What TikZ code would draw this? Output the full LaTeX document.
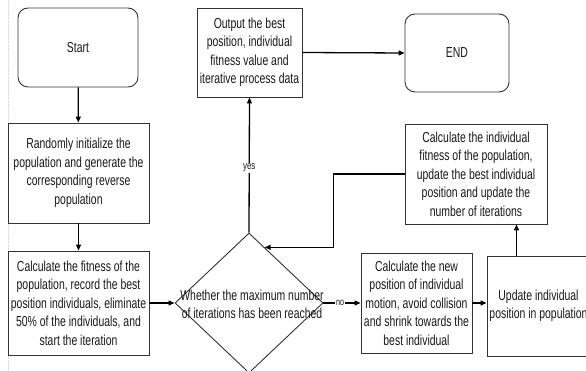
\documentclass[tikz,border=0pt]{standalone}
\usepackage{fontspec}
\setmainfont[FakeStretch=0.72]{Liberation Sans}
\usetikzlibrary{shapes.geometric,arrows.meta,calc}
\begin{document}
\begin{tikzpicture}[x=1pt,y=-1pt,
  every node/.style={font=\fontsize{14.5}{18.5}\selectfont, text=black!90},
  box/.style={draw=black!80, line width=0.9pt, fill=white, align=center, inner sep=1pt},
  roundbox/.style={box, rounded corners=10pt},
  decision/.style={draw=black!80, line width=0.9pt, diamond, inner sep=0pt, minimum width=148pt, minimum height=140pt},
  arr/.style={line width=1.3pt, black, -{Triangle[length=6pt,width=5pt]}},
  lbl/.style={fill=white, inner sep=1pt}
]
\clip (0,0) rectangle (586,371);
\fill[white] (0,0) rectangle (586,371);
\draw[black!15, densely dotted] (8,0) -- (8,371);

\node[roundbox, minimum width=120pt, minimum height=79pt] (start) at (78,47.5) {Start};
\node[box, minimum width=141pt, minimum height=100pt] (rand) at (78.5,173) {Randomly initialize the\\population and generate the\\corresponding reverse\\population};
\node[box, minimum width=141pt, minimum height=104pt] (fit) at (78.5,303) {Calculate the fitness of the\\population, record the best\\position individuals, eliminate\\50\% of the individuals, and\\start the iteration};
\node[box, minimum width=105pt, minimum height=89pt] (out) at (249.5,52.5) {Output the best\\position, individual\\fitness value and\\iterative process data};
\node[roundbox, minimum width=104pt, minimum height=78pt] (endn) at (457,53) {END};
\node[box, minimum width=142pt, minimum height=100pt] (calcind) at (476,174) {Calculate the individual\\fitness of the population,\\update the best individual\\position and update the\\number of iterations};
\node[box, minimum width=111pt, minimum height=100pt] (calcnew) at (416.5,303) {Calculate the new\\position of individual\\motion, avoid collision\\and shrink towards the\\best individual};
\node[box, minimum width=103pt, minimum height=100pt] (upd) at (538.5,306) {Update individual\\position in population};
\node[decision] (dec) at (249,303) {};
\node[align=center, inner sep=0pt] (dectext) at (252,304.5) {Whether the maximum number\\of iterations has been reached};

\coordinate (hit) at ($(dec.north)!0.21!(dec.east)$);

\draw[arr] (start) -- (rand);
\draw[arr] (rand) -- (fit);
\draw[arr] (fit.east) -- (dec.west);
\draw[arr] (dec.north) -- node[lbl, font=\fontsize{11}{12}\selectfont, pos=0.48] (yes) {yes} (out.south);
\draw[arr] (out.east) -- (endn.west);
\draw[arr] (dec.east) -- node[lbl, font=\fontsize{10}{11}\selectfont, pos=0.45] (no) {no} (calcnew.west);
\draw[arr] (calcnew.east) -- (calcnew.east -| upd.west);
\draw[arr] ([xshift=-22pt]upd.north) -- ([xshift=-22pt]upd.north |- calcind.south);
\draw[arr] (calcind.west) -- ++(-71,0) |- (hit);
\end{tikzpicture}
\end{document}
